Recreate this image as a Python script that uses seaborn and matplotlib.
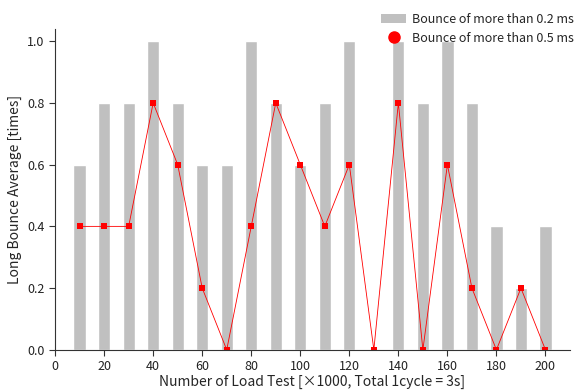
import pandas as pd
import numpy as np
import matplotlib.pyplot as plt
import seaborn as sns
from matplotlib.patches import Patch
from matplotlib.lines import Line2D

load_tests = [10, 20, 30, 40, 50, 60, 70, 80, 90, 100,
              110, 120, 130, 140, 150, 160, 170, 180, 190, 200]
bounce_02ms = [0.6, 0.8, 0.8, 1.0, 0.8, 0.6, 0.6, 1.0, 0.8, 0.6,
               0.8, 1.0, 0.0, 1.0, 0.8, 1.0, 0.8, 0.4, 0.2, 0.4]
bounce_05ms = [0.4, 0.4, 0.4, 0.8, 0.6, 0.2, 0.0, 0.4, 0.8, 0.6,
               0.4, 0.6, 0.0, 0.8, 0.0, 0.6, 0.2, 0.0, 0.2, 0.0]

BAR_COLOUR = '#c0c0c0'
LINE_COLOUR = '#ff0000'

df = pd.DataFrame({
    'test': load_tests,
    'b02': bounce_02ms,
    'b05': bounce_05ms,
})

sns.set_style('ticks')
plt.rcParams['font.family'] = ['Noto Sans CJK KR', 'DejaVu Sans']

fig = plt.figure(figsize=(5.74, 3.9), dpi=100)
ax = fig.add_axes([0.096, 0.103, 0.897, 0.823])

sns.barplot(data=df, x='test', y='b02', native_scale=True, width=0.5,
            color=BAR_COLOUR, saturation=1, ax=ax)
sns.lineplot(data=df, x='test', y='b05', color=LINE_COLOUR, linewidth=0.6,
             marker='s', markersize=5, markeredgewidth=0, ax=ax)

ax.set_xlim(0, 210)
ax.set_ylim(0, 1.04)
ax.set_xticks(np.arange(0, 201, 20))
ax.set_yticks([0.0, 0.2, 0.4, 0.6, 0.8, 1.0])
ax.set_yticklabels(['0.0', '0.2', '0.4', '0.6', '0.8', '1.0'])
ax.tick_params(labelsize=9, length=4, color='#333333', labelcolor='#222222')
for side in ['left', 'bottom']:
    ax.spines[side].set_color('#333333')
sns.despine(ax=ax)

ax.set_xlabel('Number of Load Test [\u00d71000, Total 1cycle = 3s]', fontsize=10, labelpad=1)
ax.set_ylabel('Long Bounce Average [times]', fontsize=10)

handles = [
    Patch(facecolor=BAR_COLOUR, edgecolor='none'),
    Line2D([], [], color=LINE_COLOUR, marker='o', linestyle='none', markersize=8),
]
fig.legend(handles, ['Bounce of more than 0.2 ms', 'Bounce of more than 0.5 ms'],
           loc='upper right', bbox_to_anchor=(1.02, 0.995), frameon=False,
           fontsize=9, handlelength=2.0, handletextpad=0.5, labelspacing=0.45)

plt.savefig('out.png', dpi=100)
